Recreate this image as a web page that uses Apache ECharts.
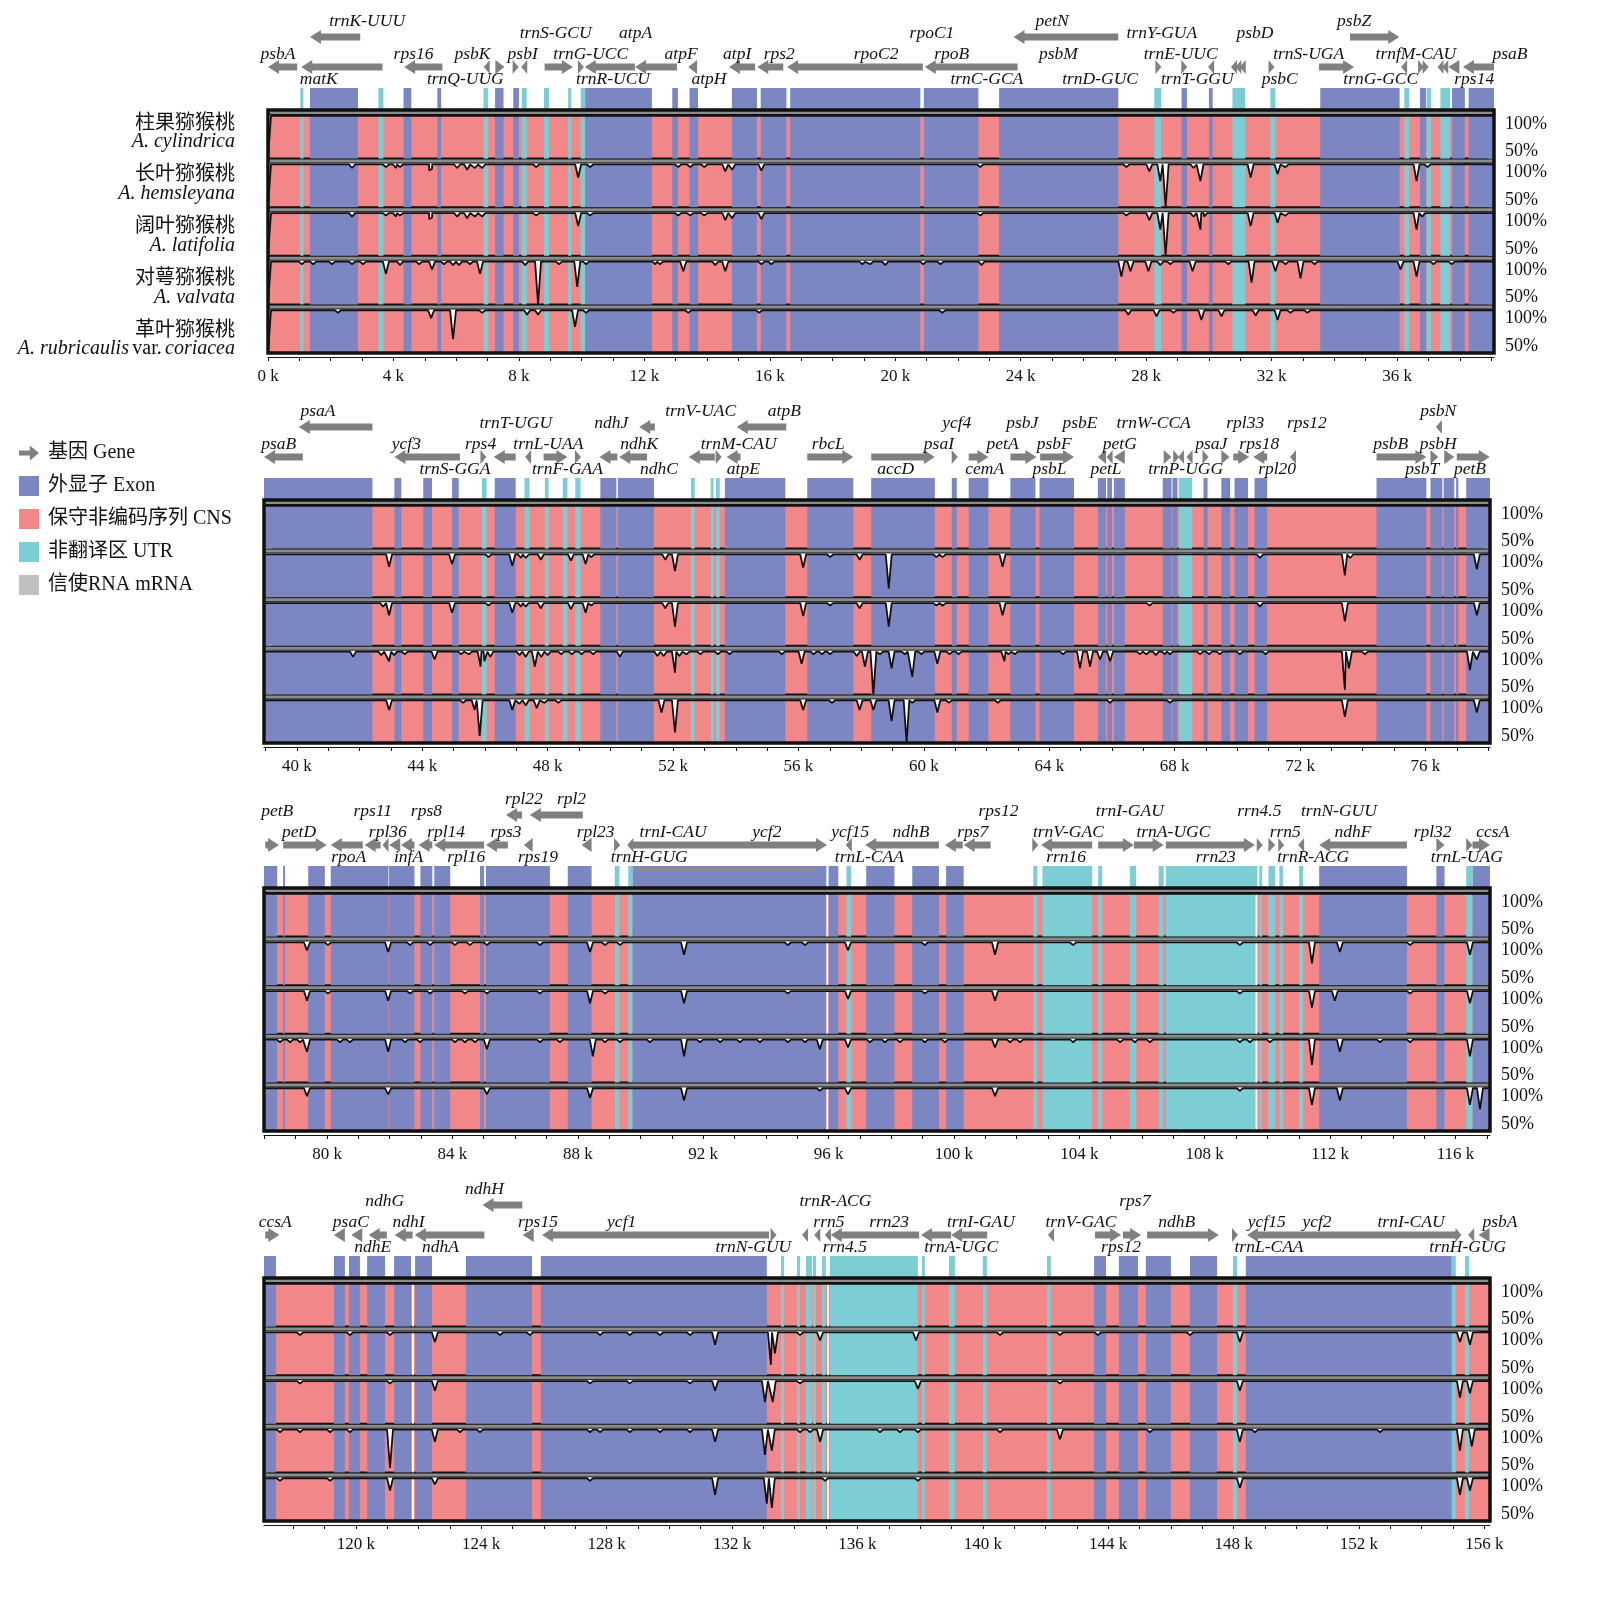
<!DOCTYPE html>
<html lang="zh">
<head>
<meta charset="UTF-8">
<title>猕猴桃属叶绿体基因组 mVISTA 比对</title>
<script src="https://cdn.jsdelivr.net/npm/echarts@6.0.0/dist/echarts.min.js"></script>
<style>
  html, body { margin: 0; padding: 0; background: #fff; }
  #chart { width: 1603px; height: 1609px; }
</style>
</head>
<body>
<div id="chart"></div>
<script>
// genome segments shown in the four rows (k = kb)
var segments = [[0, 39.09], [38.95, 78.06], [77.99, 117.1], [117.07, 156.18]];

var species = [
  ['柱果猕猴桃', 'A. cylindrica'],
  ['长叶猕猴桃', 'A. hemsleyana'],
  ['阔叶猕猴桃', 'A. latifolia'],
  ['对萼猕猴桃', 'A. valvata'],
  ['革叶猕猴桃', 'A. rubricaulis var. coriacea']
];

var legendNames = ['基因 Gene', '外显子 Exon', '保守非编码序列 CNS', '非翻译区 UTR', '信使RNA mRNA'];

// annotated regions [start k, end k]
var exons = [
  [1.34, 2.87], [4.32, 4.57], [5.40, 5.52], [7.24, 7.51], [7.82, 8.00], [10.11, 12.24], [12.89, 13.07],
  [13.44, 13.71], [14.79, 15.59], [15.71, 16.53], [16.65, 20.80], [20.91, 22.65], [23.31, 27.11],
  [29.13, 29.30], [30.00, 30.12], [33.55, 36.08], [36.73, 36.92], [37.75, 38.16], [38.28, 39.2],
  [38.9, 42.41], [43.11, 43.33], [44.03, 44.31], [44.95, 45.16], [46.31, 46.98], [49.68, 50.19],
  [50.24, 51.39], [53.65, 55.58], [56.28, 57.75], [58.32, 60.35], [60.89, 61.05], [61.43, 62.06],
  [62.76, 63.56], [63.69, 64.79], [65.55, 65.81], [65.85, 66.0], [66.06, 66.41], [67.62, 67.9],
  [67.93, 68.09], [68.92, 69.05], [69.49, 69.77], [69.91, 70.34], [70.55, 70.95], [74.44, 76.03],
  [76.16, 76.54], [76.58, 76.92], [76.98, 77.05], [77.3, 78.1],
  [77.9, 78.41], [78.60, 78.66], [79.40, 79.93], [80.12, 81.96], [81.98, 82.79], [82.98, 83.36],
  [83.42, 83.93], [84.88, 85.01], [85.07, 87.11], [87.68, 88.44], [89.74, 95.93], [96.0, 96.31],
  [97.2, 98.1], [98.67, 99.52], [99.75, 100.31], [111.65, 114.45], [115.39, 115.65], [116.54, 117.2],
  [117.0, 117.45], [119.3, 119.65], [119.78, 120.13], [120.36, 120.93], [121.22, 121.76], [121.89, 122.43],
  [123.51, 125.62], [125.9, 133.11], [143.55, 143.93], [144.34, 144.95], [145.2, 146.0], [146.61, 147.47],
  [148.39, 154.96]
];
var utrs = [
  [1.03, 1.13], [3.52, 3.68], [6.87, 7.02], [8.09, 8.25], [8.80, 8.96], [9.57, 9.67], [9.97, 10.11],
  [28.26, 28.48], [30.75, 31.16], [31.96, 32.12], [36.23, 36.39], [36.94, 37.08], [37.38, 37.69],
  [45.9, 46.05], [47.26, 47.42], [47.91, 48.03], [48.48, 48.63], [48.88, 49.05], [52.57, 52.69],
  [53.2, 53.29], [53.37, 53.49], [68.13, 68.56],
  [89.18, 89.33], [89.61, 89.74], [96.57, 96.72], [102.53, 102.66], [102.82, 104.41], [104.6, 104.73],
  [105.61, 105.81], [106.53, 106.69], [106.76, 109.68], [109.74, 109.83], [110.03, 110.25], [110.38, 110.5],
  [111.01, 111.14], [116.34, 116.54],
  [133.56, 133.66], [134.07, 134.17], [134.36, 134.55], [134.58, 134.68], [134.87, 134.99], [135.12, 137.93],
  [138.06, 138.15], [138.92, 139.11], [140.0, 140.13], [142.05, 142.17], [147.98, 148.11], [154.96, 155.09],
  [155.38, 155.51]
];
var mrnas = [[89.84, 95.55]];
var gaps = [[95.93, 95.99], [109.62, 109.68], [121.79, 121.85], [135.03, 135.09]];

// gene arrows [start k, end k, strand, lane (0 upper, 1 lower)]
var arrowsP1 = [
  [0.0, 0.93, -1, 1], [1.06, 3.65, -1, 1], [1.34, 2.94, -1, 0], [4.34, 5.56, -1, 1], [6.9, 7.05, -1, 1],
  [7.25, 7.54, 1, 1], [7.80, 7.99, 1, 1], [8.09, 8.25, -1, 1], [8.82, 9.72, 1, 1], [9.91, 10.04, 1, 1],
  [10.10, 11.70, -1, 1], [11.70, 13.04, -1, 1], [13.40, 13.68, -1, 1], [14.70, 15.53, -1, 1],
  [15.60, 16.43, -1, 1], [16.55, 20.88, -1, 1], [20.94, 23.9, -1, 1], [23.77, 27.11, -1, 0],
  [28.31, 28.47, 1, 1], [29.17, 29.26, 1, 1], [30.02, 30.12, -1, 1], [30.74, 30.86, -1, 1],
  [30.88, 31.0, -1, 1], [31.02, 31.14, -1, 1], [31.93, 32.06, 1, 1], [33.51, 34.63, 1, 1],
  [34.5, 36.07, 1, 0], [36.15, 36.3, -1, 1], [36.7, 36.83, 1, 1], [36.85, 36.97, 1, 1],
  [37.32, 37.45, -1, 1], [37.47, 37.6, -1, 1], [37.62, 38.0, -1, 1], [38.1, 39.16, -1, 1]
];
var arrowsP2 = [
  [38.85, 40.19, -1, 1], [40.06, 42.41, -1, 0], [43.11, 45.2, -1, 1], [45.87, 46.03, 1, 1],
  [46.28, 46.98, -1, 1], [47.3, 47.45, -1, 1], [47.87, 48.63, 1, 1], [48.88, 49.05, 1, 1],
  [50.92, 51.42, -1, 0], [49.65, 50.22, -1, 1], [50.28, 51.17, -1, 1], [52.5, 53.33, -1, 1],
  [53.39, 53.52, 1, 1], [53.71, 54.15, -1, 1], [54.03, 55.61, -1, 0], [56.28, 57.75, 1, 1],
  [58.32, 60.35, 1, 1], [60.92, 61.05, 1, 1], [61.43, 62.06, 1, 1], [62.76, 63.59, 1, 1],
  [63.71, 64.79, 1, 1], [65.55, 65.81, -1, 1], [65.85, 66.0, -1, 1], [66.06, 66.41, -1, 1],
  [67.65, 67.9, 1, 1], [67.97, 68.13, 1, 1], [68.13, 68.28, -1, 1], [68.41, 68.54, -1, 1],
  [68.92, 69.05, 1, 1], [69.49, 69.75, 1, 1], [69.87, 70.38, 1, 1], [70.51, 70.95, -1, 1],
  [71.71, 71.84, -1, 1], [74.44, 76.03, 1, 1], [76.16, 76.41, 1, 1], [76.35, 76.51, -1, 0],
  [76.6, 76.92, 1, 1], [77.0, 78.05, 1, 1]
];
var arrowsP3 = [
  [78.03, 78.47, 1, 1], [78.6, 79.99, 1, 1], [80.12, 81.14, -1, 1], [81.2, 81.71, -1, 1],
  [81.77, 81.96, -1, 1], [81.98, 82.34, -1, 1], [82.36, 82.79, -1, 1], [82.92, 83.36, -1, 1],
  [83.42, 85.01, -1, 1], [85.07, 85.77, -1, 1], [86.28, 86.56, -1, 1], [85.71, 86.22, -1, 0],
  [86.47, 88.16, -1, 0], [88.12, 88.44, -1, 1], [89.18, 89.33, 1, 1], [89.61, 89.74, -1, 1],
  [89.74, 95.95, 1, 1], [96.57, 96.72, -1, 1], [97.17, 99.52, -1, 1], [99.71, 100.28, -1, 1],
  [100.31, 101.17, -1, 1], [102.53, 102.66, 1, 1], [102.78, 104.41, -1, 1], [104.6, 105.74, 1, 1],
  [105.74, 106.69, 1, 1], [106.76, 109.6, 1, 1], [109.68, 109.83, 1, 1], [110.03, 110.25, 1, 1],
  [110.38, 110.5, 1, 1], [111.01, 111.14, -1, 1], [111.65, 114.45, -1, 1], [115.39, 115.65, 1, 1],
  [116.34, 116.54, 1, 1], [116.54, 117.2, 1, 1]
];
var arrowsP4 = [
  [117.11, 117.56, 1, 1], [119.3, 119.65, -1, 1], [119.84, 120.22, -1, 1], [120.41, 120.99, -1, 1],
  [121.24, 121.81, -1, 1], [121.88, 124.1, -1, 1], [124.04, 125.31, -1, 0], [125.31, 125.69, -1, 1],
  [125.94, 133.18, -1, 1], [133.25, 133.4, 1, 1], [134.26, 134.4, -1, 1], [134.64, 134.8, -1, 1],
  [135.0, 135.12, -1, 1], [135.15, 137.97, -1, 1], [138.03, 138.99, -1, 1], [138.99, 140.14, -1, 1],
  [142.11, 142.24, -1, 1], [143.58, 144.41, 1, 1], [144.47, 145.05, 1, 1], [145.24, 147.53, 1, 1],
  [147.98, 148.11, 1, 1], [148.43, 155.1, -1, 1], [155.1, 155.25, 1, 1], [155.51, 155.65, -1, 1],
  [155.8, 156.18, -1, 1]
];

// gene names [text, anchor k, tier]
var labelsP1 = [
  ['psbA', 0.32, 2], ['matK', 1.62, 3], ['trnK-UUU', 3.16, 0], ['rps16', 4.64, 2], ['trnQ-UUG', 6.29, 3],
  ['psbK', 6.52, 2], ['psbI', 8.12, 2], ['trnS-GCU', 9.17, 1], ['trnG-UCC', 10.29, 2], ['trnR-UCU', 11.0, 3],
  ['atpA', 11.72, 1], ['atpF', 13.17, 2], ['atpH', 14.06, 3], ['atpI', 14.96, 2], ['rps2', 16.3, 2],
  ['rpoC2', 19.39, 2], ['rpoC1', 21.17, 1], ['rpoB', 21.8, 2], ['trnC-GCA', 22.92, 3], ['petN', 25.0, 0],
  ['psbM', 25.2, 2], ['trnD-GUC', 26.53, 3], ['trnY-GUA', 28.5, 1], ['trnE-UUC', 29.1, 2],
  ['trnT-GGU', 29.63, 3], ['psbD', 31.47, 1], ['psbC', 32.26, 3], ['trnS-UGA', 33.18, 2], ['psbZ', 34.63, 0],
  ['trnG-GCC', 35.48, 3], ['trnfM-CAU', 36.6, 2], ['rps14', 38.46, 3], ['psaB', 39.6, 2]
];
var labelsP2 = [
  ['psaA', 40.67, 0], ['psaB', 39.42, 2], ['ycf3', 43.49, 2], ['trnS-GGA', 45.04, 3], ['trnT-UGU', 46.98, 1],
  ['rps4', 45.86, 2], ['trnL-UAA', 48.02, 2], ['trnF-GAA', 48.63, 3], ['ndhJ', 50.03, 1], ['ndhK', 50.92, 2],
  ['ndhC', 51.55, 3], ['trnV-UAC', 52.88, 0], ['atpB', 55.55, 0], ['trnM-CAU', 54.09, 2], ['atpE', 54.24, 3],
  ['rbcL', 56.95, 2], ['accD', 59.1, 3], ['psaI', 60.48, 2], ['ycf4', 61.05, 1], ['cemA', 61.94, 3],
  ['petA', 62.51, 2], ['psbJ', 63.14, 1], ['psbL', 64.01, 3], ['psbF', 64.16, 2], ['psbE', 64.98, 1],
  ['petG', 66.25, 2], ['petL', 65.81, 3], ['trnW-CCA', 67.33, 1], ['trnP-UGG', 68.35, 3], ['psaJ', 69.17, 2],
  ['rpl33', 70.25, 1], ['rps18', 70.7, 2], ['rpl20', 71.27, 3], ['rps12', 72.22, 1], ['psbB', 74.89, 2],
  ['psbN', 76.41, 0], ['psbT', 75.9, 3], ['psbH', 76.41, 2], ['petB', 77.42, 3]
];
var labelsP3 = [
  ['petB', 78.41, 1], ['petD', 79.11, 2], ['rpoA', 80.69, 3], ['rps11', 81.46, 1], ['rpl36', 81.94, 2],
  ['infA', 82.6, 3], ['rps8', 83.17, 1], ['rpl14', 83.8, 2], ['rpl16', 84.44, 3], ['rps3', 85.71, 2],
  ['rps19', 86.73, 3], ['rpl22', 86.28, 0], ['rpl2', 87.8, 0], ['rpl23', 88.57, 2], ['trnH-GUG', 90.28, 3],
  ['trnI-CAU', 91.04, 2], ['ycf2', 94.03, 2], ['ycf15', 96.69, 2], ['trnL-CAA', 97.3, 3], ['ndhB', 98.63, 2],
  ['rps7', 100.6, 2], ['rps12', 101.42, 1], ['trnV-GAC', 103.65, 2], ['rrn16', 103.58, 3],
  ['trnI-GAU', 105.61, 1], ['trnA-UGC', 107.0, 2], ['rrn23', 108.35, 3], ['rrn4.5', 109.74, 1],
  ['rrn5', 110.57, 2], ['trnN-GUU', 112.28, 1], ['trnR-ACG', 111.46, 3], ['ndhF', 112.73, 2],
  ['rpl32', 115.27, 2], ['trnL-UAG', 116.36, 3], ['ccsA', 117.19, 2]
];
var labelsP4 = [
  ['ccsA', 117.43, 2], ['psaC', 119.84, 2], ['ndhE', 120.54, 3], ['ndhG', 120.92, 1], ['ndhI', 121.68, 2],
  ['ndhA', 122.7, 3], ['ndhH', 124.1, 0], ['rps15', 125.81, 2], ['ycf1', 128.48, 2], ['trnN-GUU', 132.68, 3],
  ['trnR-ACG', 135.3, 1], ['rrn5', 135.09, 2], ['rrn4.5', 135.6, 3], ['rrn23', 137.01, 2],
  ['trnA-UGC', 139.31, 3], ['trnI-GAU', 139.94, 2], ['trnV-GAC', 143.13, 2], ['rps7', 144.85, 1],
  ['rps12', 144.41, 3], ['ndhB', 146.19, 2], ['trnL-CAA', 149.13, 3], ['ycf15', 149.06, 2],
  ['ycf2', 150.66, 2], ['trnI-CAU', 153.66, 2], ['trnH-GUG', 155.47, 3], ['psbA', 156.5, 2]
];

// identity dips [position k, identity %] per species (elsewhere ~100 %)
var idCylindrica = [[0, 50]];
var idHemsleyana = [
  [0, 50], [2.68, 95], [3.76, 96], [4.08, 95], [4.21, 96], [5.14, 92], [5.23, 94], [6.03, 95], [6.35, 93],
  [6.6, 95], [6.83, 95], [8.55, 96], [9.89, 84], [10.27, 96], [13.08, 96], [13.46, 96], [13.91, 96], [14.58, 91],
  [14.8, 93], [15.73, 92], [22.71, 96], [27.37, 96], [28.1, 91], [28.45, 80], [28.62, 50], [29.51, 95],
  [29.73, 80], [31.33, 84], [32.19, 88], [32.44, 96], [36.62, 80], [36.97, 96],
  [42.94, 85], [44.95, 88], [46.11, 96], [46.87, 86], [47.15, 95], [47.3, 95], [47.78, 93], [48.74, 92],
  [49.21, 88], [49.39, 96], [51.75, 93], [52.06, 80], [56.15, 84], [57.01, 96], [57.95, 93], [58.88, 60],
  [60.4, 96], [60.6, 96], [62.51, 85], [70.72, 95], [73.43, 75], [73.6, 95], [77.64, 82],
  [79.36, 90], [80.03, 96], [81.95, 88], [82.65, 96], [83.29, 96], [84.08, 96], [84.56, 96], [85.1, 96],
  [86.79, 96], [88.39, 88], [88.87, 96], [89.35, 96], [91.39, 85], [94.7, 96], [95.25, 96], [96.62, 90],
  [99.07, 96], [101.31, 85], [103.8, 96], [109.12, 96], [111.42, 75], [112.31, 88], [114.55, 96], [116.46, 85],
  [118.22, 96], [119.81, 96], [121.09, 96], [122.52, 88], [124.6, 96], [125.55, 96], [127.79, 96],
  [128.74, 96], [129.7, 96], [130.66, 96], [131.46, 85], [133.24, 62], [133.37, 75], [134.17, 96],
  [134.81, 90], [137.87, 90], [140.55, 96], [142.46, 96], [143.67, 96], [146.61, 96], [148.2, 88],
  [155.22, 88], [155.54, 85]
];
var idLatifolia = [
  [0, 50], [2.68, 95], [3.76, 96], [4.08, 95], [4.21, 96], [5.14, 92], [5.23, 94], [6.03, 95], [6.35, 93],
  [6.6, 95], [6.83, 95], [8.55, 96], [9.89, 84], [10.27, 96], [13.08, 96], [13.46, 96], [13.91, 96], [14.58, 91],
  [14.8, 93], [15.73, 92], [22.71, 96], [27.37, 96], [28.1, 91], [28.45, 80], [28.62, 50], [29.51, 95],
  [29.73, 80], [29.85, 95], [31.33, 84], [32.19, 88], [32.44, 96], [36.62, 80], [36.8, 95],
  [42.75, 95], [42.94, 85], [44.95, 88], [46.11, 96], [46.87, 88], [47.15, 95], [47.3, 95], [47.78, 93],
  [48.74, 92], [49.21, 88], [49.39, 96], [51.75, 93], [52.06, 72], [56.15, 84], [57.01, 96], [57.95, 93],
  [58.88, 72], [60.4, 96], [60.6, 96], [62.51, 85], [67.2, 96], [70.72, 95], [73.43, 78], [77.64, 85],
  [79.36, 88], [80.03, 96], [81.95, 88], [82.65, 96], [83.29, 96], [84.4, 96], [85.1, 96], [86.79, 96],
  [88.39, 85], [88.87, 96], [91.39, 85], [94.7, 96], [96.62, 90], [99.07, 96], [101.31, 88], [109.12, 96],
  [111.42, 80], [112.15, 88], [114.55, 96], [116.46, 85],
  [118.22, 96], [121.09, 96], [122.52, 88], [127.47, 96], [128.74, 96], [130.66, 96], [131.46, 88],
  [133.05, 75], [133.3, 75], [134.17, 96], [137.93, 90], [142.46, 96], [148.2, 88], [155.22, 80], [155.54, 85]
];
var idValvata = [
  [0, 50], [1.08, 96], [1.44, 96], [2.04, 96], [2.68, 96], [3.03, 96], [3.76, 85], [4.21, 95], [4.82, 96],
  [5.23, 90], [5.61, 96], [5.9, 95], [6.09, 95], [6.44, 96], [6.76, 85], [8.2, 95], [8.61, 50], [9.28, 96],
  [9.86, 70], [10.14, 96], [12.35, 96], [12.5, 96], [13.24, 88], [14.26, 95], [14.58, 88], [15.73, 96],
  [16.05, 96], [18.95, 96], [19.2, 96], [19.68, 95], [20.89, 96], [21.44, 96], [22.75, 95], [27.21, 82],
  [27.5, 88], [28.07, 88], [28.45, 95], [28.77, 96], [29.48, 88], [30.62, 96], [31.36, 75], [32.12, 88],
  [32.44, 96], [32.92, 80], [33.37, 96], [36.11, 90], [36.62, 82], [37.16, 96], [37.74, 96],
  [41.79, 93], [42.69, 95], [42.94, 88], [43.1, 95], [43.44, 96], [44.39, 90], [45.24, 96], [45.49, 96],
  [45.86, 82], [45.98, 88], [46.17, 93], [47.1, 95], [47.3, 93], [47.59, 82], [47.8, 93], [48.0, 95],
  [48.43, 96], [48.77, 96], [49.08, 96], [49.45, 96], [50.3, 93], [51.5, 94], [51.7, 94], [52.06, 75],
  [52.2, 94], [52.43, 96], [52.87, 96], [53.43, 96], [53.8, 96], [55.47, 96], [56.1, 85], [56.48, 96],
  [56.75, 96], [57.01, 96], [57.86, 94], [58.12, 82], [58.39, 50], [58.6, 96], [58.97, 80], [59.39, 96],
  [59.63, 70], [59.92, 96], [60.43, 85], [60.82, 96], [61.11, 96], [62.57, 88], [62.7, 96], [62.9, 96],
  [64.44, 96], [64.98, 80], [65.3, 82], [65.62, 90], [65.94, 88], [66.89, 96], [67.1, 96], [67.4, 95],
  [67.69, 96], [67.85, 96], [68.81, 96], [69.1, 96], [69.44, 96], [70.08, 96], [70.9, 96], [73.43, 55],
  [73.56, 80], [74.07, 96], [77.42, 78], [77.64, 90],
  [78.5, 96], [78.82, 96], [79.14, 96], [79.36, 85], [80.41, 96], [80.73, 96], [81.95, 85], [82.49, 96],
  [82.97, 96], [84.08, 96], [84.4, 96], [84.72, 96], [85.1, 88], [86.79, 96], [87.43, 96], [88.48, 80],
  [88.87, 96], [89.35, 96], [90.3, 96], [91.39, 80], [91.9, 96], [92.54, 96], [93.17, 96], [93.81, 96],
  [94.7, 96], [95.25, 96], [95.72, 88], [96.62, 90], [97.32, 96], [97.8, 96], [98.28, 96], [99.07, 96],
  [99.71, 96], [101.31, 90], [101.79, 96], [102.11, 96], [103.8, 96], [105.3, 96], [105.77, 96],
  [106.25, 96], [109.12, 96], [109.44, 96], [110.08, 96], [111.42, 70], [112.31, 85], [113.59, 96],
  [114.55, 96], [116.46, 80],
  [117.58, 96], [118.22, 96], [119.18, 96], [119.81, 96], [121.09, 55], [122.52, 85], [123.32, 96],
  [123.96, 96], [127.47, 96], [127.79, 96], [128.74, 96], [129.7, 96], [130.66, 96], [131.46, 85],
  [133.05, 70], [133.27, 75], [134.17, 96], [134.49, 96], [134.81, 85], [136.72, 96], [137.36, 96],
  [137.93, 96], [140.55, 96], [142.46, 88], [145.33, 96], [148.2, 85], [148.68, 96], [152.67, 96],
  [155.22, 75], [155.6, 80]
];
var idRubricaulis = [
  [0, 50], [2.23, 96], [5.2, 90], [5.9, 66], [6.83, 96], [8.26, 94], [8.61, 94], [9.79, 80], [10.14, 96],
  [13.4, 96], [15.66, 96], [21.5, 96], [27.43, 94], [28.33, 92], [28.87, 96], [29.76, 88], [30.4, 92],
  [31.49, 93], [32.19, 88], [32.6, 96], [33.14, 96],
  [42.94, 88], [45.3, 96], [45.67, 88], [45.83, 58], [46.87, 88], [47.1, 95], [47.3, 93], [47.65, 90],
  [47.9, 96], [48.34, 96], [51.63, 85], [52.06, 62], [56.15, 88], [57.07, 96], [57.95, 88], [58.39, 88],
  [58.97, 75], [59.45, 50], [59.63, 96], [60.43, 85], [60.8, 96], [62.36, 96], [65.94, 96], [67.85, 96],
  [73.43, 80], [77.64, 85],
  [79.36, 90], [81.95, 92], [85.1, 92], [88.39, 88], [91.39, 85], [95.72, 96], [96.62, 92], [101.31, 90],
  [109.12, 96], [111.42, 80], [112.31, 85], [116.46, 80], [116.78, 75],
  [117.58, 96], [119.18, 96], [121.09, 85], [122.52, 92], [127.47, 96], [131.46, 80], [133.11, 70],
  [133.27, 65], [134.97, 96], [137.93, 96], [148.2, 88], [155.22, 80], [155.54, 85]
];

var identity = [idCylindrica, idHemsleyana, idLatifolia, idValvata, idRubricaulis];
var arrowsByRow = [arrowsP1, arrowsP2, arrowsP3, arrowsP4];
var labelsByRow = [labelsP1, labelsP2, labelsP3, labelsP4];

// ---- styling / layout ----
var COLOR_EXON = '#7b86c2', COLOR_CNS = '#f2878a', COLOR_UTR = '#7dcdd4';
var COLOR_MRNA = '#c0c0c0', COLOR_GENE = '#808080', INK = '#111';
var SERIF = '"Liberation Serif", "Noto Sans CJK SC", serif';
var BOX_TOP = [110, 500, 888, 1278];
var PLOT_LEFT = [268, 264, 264, 264];
var PLOT_RIGHT = [1494, 1490, 1490, 1490];
var BOX_H = 243, PITCH = 48.6, TRACK_H = 43.6;
var LABEL_Y = [11, 23, 44, 69];   // label tiers, px below the annotation strip top
var ARROW_Y = [27, 57];           // arrow lanes
var BAND_Y = 78, BAND_H = 21;
var HW = 0.095, BASE = 99;

var TYPE_EXON = 0, TYPE_UTR = 1, TYPE_MRNA = 2, TYPE_GAP = 3;
var TYPE_COLOR = [COLOR_EXON, COLOR_UTR, '#8c8c8c', '#ffffff'];

function tagged(list, type) { return list.map(function (r) { return [r[0], r[1], type]; }); }
var bandRegions = tagged(exons, TYPE_EXON).concat(tagged(utrs, TYPE_UTR), tagged(mrnas, TYPE_MRNA));
var trackRegions = tagged(exons, TYPE_EXON).concat(tagged(utrs, TYPE_UTR), tagged(gaps, TYPE_GAP));

function inSeg(list, seg) {
  return list.filter(function (r) { return r[1] >= seg[0] && r[0] <= seg[1]; });
}
function multiplesIn(lo, hi, step) {
  var out = [];
  for (var v = Math.ceil(lo / step - 1e-9) * step; v <= hi + 1e-9; v += step) out.push(+v.toFixed(3));
  return out;
}
function identityLine(dips, seg) {
  var pts = [[seg[0], BASE], [seg[1], BASE]];
  dips.forEach(function (d) {
    if (d[0] < seg[0] - 0.3 || d[0] > seg[1] + 0.3) return;
    pts.push([d[0] - HW, BASE], [d[0], d[1]], [d[0] + HW, BASE]);
  });
  pts.sort(function (a, b) { return a[0] - b[0]; });
  return pts;
}

function clipToGrid(rect, cs) {
  return echarts.graphic.clipRectByRect(rect, { x: cs.x, y: cs.y, width: cs.width, height: cs.height });
}

function renderBand(params, api) {
  var cs = params.coordSys, type = api.value(2);
  var x1 = api.coord([api.value(0), 0])[0], x2 = api.coord([api.value(1), 0])[0];
  var y = cs.y + BAND_Y, h = BAND_H;
  if (type === TYPE_MRNA) { y = cs.y + BAND_Y + 1; h = 4; }
  var r = clipToGrid({ x: x1, y: y, width: Math.max(x2 - x1, 1), height: h }, cs);
  return r && { type: 'rect', shape: r, style: { fill: TYPE_COLOR[type] } };
}

function renderTrackRegion(params, api) {
  var cs = params.coordSys, type = api.value(2);
  var x1 = api.coord([api.value(0), 0])[0], x2 = api.coord([api.value(1), 0])[0];
  var r = clipToGrid({ x: x1, y: cs.y, width: Math.max(x2 - x1, 1), height: cs.height }, cs);
  return r && { type: 'rect', shape: r, style: { fill: TYPE_COLOR[type] } };
}

function renderArrow(params, api) {
  var cs = params.coordSys;
  var lo = cs.x, hi = cs.x + cs.width;
  var x1 = Math.max(lo, Math.min(hi, api.coord([api.value(0), 0])[0]));
  var x2 = Math.max(lo, Math.min(hi, api.coord([api.value(1), 0])[0]));
  var dir = api.value(2), cy = cs.y + ARROW_Y[api.value(3)];
  var len = x2 - x1, half = 7, shaft = 3.5;
  var head = Math.min(11, Math.max(len, 6));
  var pts, hx;
  if (len <= head + 1) {
    var mid = (x1 + x2) / 2, a = mid - head / 2, b = mid + head / 2;
    pts = dir > 0 ? [[a, cy - half], [b, cy], [a, cy + half]] : [[b, cy - half], [a, cy], [b, cy + half]];
  } else if (dir > 0) {
    hx = x2 - head;
    pts = [[x1, cy - shaft], [hx, cy - shaft], [hx, cy - half], [x2, cy], [hx, cy + half], [hx, cy + shaft], [x1, cy + shaft]];
  } else {
    hx = x1 + head;
    pts = [[x2, cy - shaft], [hx, cy - shaft], [hx, cy - half], [x1, cy], [hx, cy + half], [hx, cy + shaft], [x2, cy + shaft]];
  }
  return { type: 'polygon', shape: { points: pts }, style: { fill: COLOR_GENE } };
}

function makeLabelRenderer(list) {
  return function (params, api) {
    var cs = params.coordSys;
    var x = api.coord([api.value(0), 0])[0];
    return {
      type: 'text', x: x, y: cs.y + LABEL_Y[api.value(1)],
      style: {
        text: list[params.dataIndex][0], align: 'center', verticalAlign: 'middle',
        textAlign: 'center', textVerticalAlign: 'middle',
        font: 'italic 17.5px "Liberation Serif"', fill: INK
      }
    };
  };
}

var grids = [], xAxes = [], yAxes = [], series = [];
function addGrid(g, xa, ya) {
  g.outerBoundsMode = 'none';
  grids.push(g);
  var gi = grids.length - 1;
  xa.gridIndex = gi; ya.gridIndex = gi;
  xAxes.push(xa); yAxes.push(ya);
  return gi;
}
function hiddenX(seg) { return { type: 'value', min: seg[0], max: seg[1], show: false }; }
function hiddenY(a, b) { return { type: 'value', min: a, max: b, show: false }; }

segments.forEach(function (seg, p) {
  var top = BOX_TOP[p], left = PLOT_LEFT[p], width = PLOT_RIGHT[p] - PLOT_LEFT[p];

  // annotation strip: arrows, names, exon/UTR band
  var ga = addGrid({ left: left, width: width, top: top - 100, height: 100 }, hiddenX(seg), hiddenY(0, 100));
  series.push({
    type: 'custom', xAxisIndex: ga, yAxisIndex: ga, renderItem: renderBand, z: 3, silent: true,
    data: inSeg(bandRegions, seg), animation: false
  });
  series.push({
    type: 'custom', xAxisIndex: ga, yAxisIndex: ga, renderItem: renderArrow, z: 3, silent: true,
    data: arrowsByRow[p], animation: false
  });
  var labs = labelsByRow[p];
  series.push({
    type: 'custom', xAxisIndex: ga, yAxisIndex: ga, renderItem: makeLabelRenderer(labs), z: 4, silent: true,
    data: labs.map(function (l) { return [l[1], l[2]]; }), animation: false
  });

  // gray backing that shows between tracks
  addGrid({ left: left, width: width, top: top, height: BOX_H, show: true, backgroundColor: '#8c8c8c', borderWidth: 0 },
    hiddenX(seg), hiddenY(0, 1));

  for (var t = 0; t < 5; t++) {
    var xa = hiddenX(seg);
    if (t === 4) {
      xa = {
        type: 'value', min: seg[0], max: seg[1], position: 'bottom', offset: 4,
        axisLine: { show: true, lineStyle: { color: INK, width: 1 } },
        axisTick: { show: true, customValues: multiplesIn(seg[0], seg[1], 1), length: 4, lineStyle: { color: INK } },
        axisLabel: {
          customValues: multiplesIn(seg[0], seg[1], 4), formatter: function (v) { return v + ' k'; },
          margin: 11, color: INK, fontSize: 17, fontFamily: SERIF
        },
        splitLine: { show: false }
      };
    }
    var ya = {
      type: 'value', min: 50, max: 100, position: 'right',
      axisLine: { show: false }, axisTick: { show: false }, splitLine: { show: false },
      axisLabel: {
        customValues: [58, 89.5], formatter: function (v) { return v > 75 ? '100%' : '50%'; },
        margin: 11, color: INK, fontSize: 18, fontFamily: SERIF
      }
    };
    var gt = addGrid({
      left: left, width: width, top: top + 5 + t * PITCH, height: TRACK_H, show: true,
      backgroundColor: COLOR_CNS, borderColor: INK, borderWidth: 2
    }, xa, ya);
    series.push({
      type: 'custom', xAxisIndex: gt, yAxisIndex: gt, renderItem: renderTrackRegion, z: 3, silent: true,
      data: inSeg(trackRegions, seg), animation: false
    });
    series.push({
      type: 'line', xAxisIndex: gt, yAxisIndex: gt, data: identityLine(identity[t], seg),
      symbol: 'none', silent: true, animation: false, z: 4, clip: true,
      lineStyle: { color: INK, width: 1.8 },
      areaStyle: { color: '#ffffff', opacity: 1, origin: 'end' }
    });
  }

  // outer frame on top
  addGrid({ left: left, width: width, top: top, height: BOX_H, show: true, z: 20,
    backgroundColor: 'rgba(0,0,0,0)', borderColor: INK, borderWidth: 3.5 }, hiddenX(seg), hiddenY(0, 1));
});

// legend entries (empty series only carry the legend colours)
var legendColors = [COLOR_GENE, COLOR_EXON, COLOR_CNS, COLOR_UTR, COLOR_MRNA];
legendNames.forEach(function (n, i) {
  series.push({ name: n, type: 'line', data: [], xAxisIndex: 0, yAxisIndex: 0,
    color: legendColors[i], itemStyle: { color: legendColors[i] }, lineStyle: { color: legendColors[i] } });
});
var arrowIcon = 'path://M0,7 L13,7 L13,1 L24,10 L13,19 L13,13 L0,13 Z';

// species names beside the first row
var speciesText = [];
species.forEach(function (s, i) {
  speciesText.push({
    type: 'text', x: 235, y: 121 + i * 51.8,
    style: { text: s[0], font: '20px "Noto Sans CJK SC"', fill: INK, align: 'right', verticalAlign: 'middle',
      textAlign: 'right', textVerticalAlign: 'middle' }
  });
  var parts = s[1].split(' var. ');
  var rich = parts.length > 1 ? '{i|' + parts[0] + '} {n|var.} {i|' + parts[1] + '}' : '{i|' + s[1] + '}';
  speciesText.push({
    type: 'text', x: 235, y: 142 + i * 51.8,
    style: {
      text: rich, align: 'right', verticalAlign: 'middle', textAlign: 'right', textVerticalAlign: 'middle',
      rich: {
        i: { font: 'italic 20px "Liberation Serif"', fill: INK, fontStyle: 'italic', fontSize: 20, fontFamily: 'Liberation Serif' },
        n: { font: '20px "Liberation Serif"', fill: INK, fontSize: 20, fontFamily: 'Liberation Serif' }
      }
    }
  });
});

var chart = echarts.init(document.getElementById('chart'));
chart.setOption({
  animation: false,
  backgroundColor: '#ffffff',
  grid: grids,
  xAxis: xAxes,
  yAxis: yAxes,
  legend: {
    orient: 'vertical', left: 14, top: 438, itemGap: 13, itemWidth: 20, itemHeight: 20,
    selectedMode: false,
    textStyle: { fontSize: 20, fontFamily: SERIF, color: INK, padding: [0, 0, 0, 4] },
    data: legendNames.map(function (n, i) { return { name: n, icon: i === 0 ? arrowIcon : 'rect' }; })
  },
  graphic: speciesText,
  series: series
});
</script>
</body>
</html>
